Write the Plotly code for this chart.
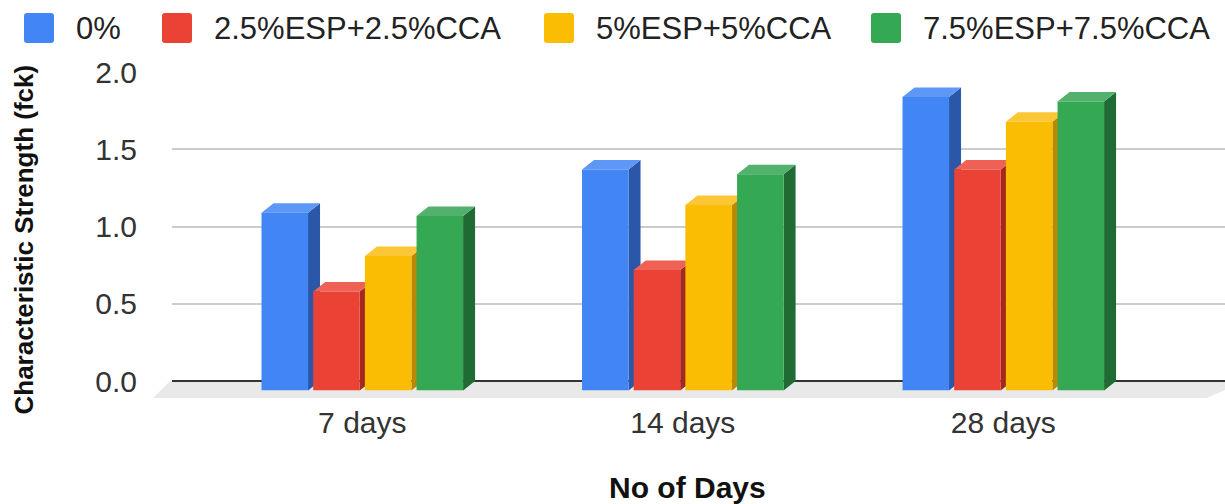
import plotly.graph_objects as go

# ---- data -------------------------------------------------------------
categories = ["7 days", "14 days", "28 days"]
series_names = ["0%", "2.5%ESP+2.5%CCA", "5%ESP+5%CCA", "7.5%ESP+7.5%CCA"]
fck_0 = [1.15, 1.43, 1.90]
fck_2_5 = [0.64, 0.78, 1.43]
fck_5 = [0.87, 1.20, 1.74]
fck_7_5 = [1.13, 1.40, 1.87]
y_tick_values = [0.0, 0.5, 1.0, 1.5, 2.0]

series_values = [fck_0, fck_2_5, fck_5, fck_7_5]

# ---- styling ----------------------------------------------------------
front_colors = ["#4285F4", "#EA4335", "#FBBC04", "#34A853"]
side_colors = ["#2B57A8", "#A3281E", "#B98A00", "#1F6B33"]
top_colors = ["#5E98F6", "#EF6155", "#FCC737", "#52B16D"]
FONT = "Arial, 'Liberation Sans', sans-serif"

W, H = 1225, 504
CAT0_PX = 362.3        # pixel x of the first category on the front plane
CAT_STEP_PX = 320.5    # pixels between categories
ZERO_PX = 390.5        # pixel y of value 0 on the front plane
UNIT_PX = 154.5        # pixels per unit of strength
DEPTH_X = 12.0         # 3-D depth offset (right)
DEPTH_Y = 9.5          # 3-D depth offset (up)
Y_MAX = 2.0
Y_BACK_MIN = -0.12
FRONT_LEFT_PX = 160.0


def fx(px):
    return px / W


def fy(py):
    return 1 - py / H


x_pos = list(range(len(categories)))
x_front_range = [(FRONT_LEFT_PX - CAT0_PX) / CAT_STEP_PX, (W - CAT0_PX) / CAT_STEP_PX]
x_back_range = [x_front_range[0], (W - CAT0_PX - DEPTH_X) / CAT_STEP_PX]

bar_gap = 0.355
group_gap = 0.1
n = len(series_names)
slot = (1 - bar_gap) / n
bar_w = slot * (1 - group_gap)
offsets = [-(1 - bar_gap) / 2 + slot * j + (slot - bar_w) / 2 for j in range(n)]

# depth offsets expressed in back-plane data units
dxd = DEPTH_X / CAT_STEP_PX
dyd = DEPTH_Y / UNIT_PX

fig = go.Figure()

# side and top faces of each bar, drawn on the back plane
for j in range(n):
    side_x, side_y, top_x, top_y = [], [], [], []
    for i, v in zip(x_pos, series_values[j]):
        xl = i + offsets[j]
        xr = xl + bar_w
        side_x += [xr - dxd, xr - dxd, xr, xr, xr - dxd, None]
        side_y += [-dyd, v - dyd, v, 0, -dyd, None]
        top_x += [xl - dxd, xr - dxd, xr, xl, xl - dxd, None]
        top_y += [v - dyd, v - dyd, v, v, v - dyd, None]
    for xs, ys, col in ((side_x, side_y, side_colors[j]), (top_x, top_y, top_colors[j])):
        fig.add_trace(go.Scatter(
            x=xs, y=ys, xaxis="x", yaxis="y", mode="lines", fill="toself",
            fillcolor=col, line=dict(width=0, color=col), hoverinfo="skip",
            showlegend=False,
        ))

# front faces
for j in range(n):
    fig.add_trace(go.Bar(
        x=x_pos, y=series_values[j], width=bar_w, offset=offsets[j],
        xaxis="x2", yaxis="y2", name=series_names[j],
        marker=dict(color=front_colors[j], line=dict(width=0)),
        showlegend=False,
    ))

shapes = []
# floor
floor_pts = [(FRONT_LEFT_PX + 10, 381), (W + 20, 381), (W - 18, 398), (FRONT_LEFT_PX - 7, 398)]
shapes.append(dict(
    type="path", xref="paper", yref="paper", layer="below",
    path="M" + "L".join(f"{fx(x):.5f},{fy(y):.5f}" for x, y in floor_pts) + "Z",
    fillcolor="#e9e9e9", line=dict(width=0),
))


def rounded_rect(x0, y0, x1, y1, r):
    def p(x, y):
        return f"{fx(x):.5f},{fy(y):.5f}"
    return (f"M{p(x0 + r, y0)}L{p(x1 - r, y0)}Q{p(x1, y0)} {p(x1, y0 + r)}"
            f"L{p(x1, y1 - r)}Q{p(x1, y1)} {p(x1 - r, y1)}"
            f"L{p(x0 + r, y1)}Q{p(x0, y1)} {p(x0, y1 - r)}"
            f"L{p(x0, y0 + r)}Q{p(x0, y0)} {p(x0 + r, y0)}Z")


annotations = []
legend_box_left = [24, 162, 544, 871]
LEG_TOP, LEG_SIZE, LEG_TEXT_GAP = 13, 30, 50
for j in range(n):
    x0 = legend_box_left[j]
    shapes.append(dict(
        type="path", xref="paper", yref="paper",
        path=rounded_rect(x0, LEG_TOP, x0 + LEG_SIZE, LEG_TOP + LEG_SIZE, 3),
        fillcolor=front_colors[j], line=dict(width=0),
    ))
    annotations.append(dict(
        text=series_names[j], xref="paper", yref="paper",
        x=fx(x0 + LEG_TEXT_GAP), y=fy(LEG_TOP + LEG_SIZE / 2),
        xanchor="left", yanchor="middle", showarrow=False,
        font=dict(family=FONT, size=31, color="#222222"),
    ))

annotations.append(dict(
    text="Characteristic Strength (fck)", xref="paper", yref="paper",
    x=fx(23.5), y=fy(240), xanchor="center", yanchor="middle", textangle=-90,
    showarrow=False, font=dict(family=FONT, size=26, color="#111111", weight="bold"),
))
annotations.append(dict(
    text="No of Days", xref="paper", yref="paper",
    x=fx(687.5), y=fy(487), xanchor="center", yanchor="middle",
    showarrow=False, font=dict(family=FONT, size=30, color="#111111", weight="bold"),
))

fig.update_layout(
    width=W, height=H, margin=dict(l=0, r=0, t=0, b=0, pad=0),
    paper_bgcolor="white", plot_bgcolor="rgba(0,0,0,0)",
    barmode="overlay", showlegend=False,
    font=dict(family=FONT, color="#333333"),
    shapes=shapes, annotations=annotations,
    xaxis=dict(
        domain=[fx(FRONT_LEFT_PX + DEPTH_X), 1], range=x_back_range,
        anchor="y", visible=False, fixedrange=True,
    ),
    yaxis=dict(
        domain=[fy(ZERO_PX - DEPTH_Y - Y_BACK_MIN * UNIT_PX),
                fy(ZERO_PX - DEPTH_Y - Y_MAX * UNIT_PX)],
        range=[Y_BACK_MIN, Y_MAX], anchor="x", tickvals=y_tick_values,
        tickformat=".1f", showgrid=True, gridcolor="#cccccc", gridwidth=1.5,
        zeroline=True, zerolinecolor="#333333", zerolinewidth=2,
        showline=False, ticks="", ticklabelstandoff=34, automargin=False,
        tickfont=dict(family=FONT, size=30, color="#333333"), fixedrange=True,
    ),
    xaxis2=dict(
        domain=[fx(FRONT_LEFT_PX), 1], range=x_front_range, anchor="y2",
        tickvals=x_pos, ticktext=categories, showgrid=False, zeroline=False,
        showline=False, ticks="", ticklabelstandoff=11, automargin=False,
        tickfont=dict(family=FONT, size=30, color="#333333"), fixedrange=True,
    ),
    yaxis2=dict(
        domain=[fy(ZERO_PX), fy(ZERO_PX - Y_MAX * UNIT_PX)], range=[0, Y_MAX],
        anchor="x2", visible=False, fixedrange=True,
    ),
)

fig.write_html("out.html")
